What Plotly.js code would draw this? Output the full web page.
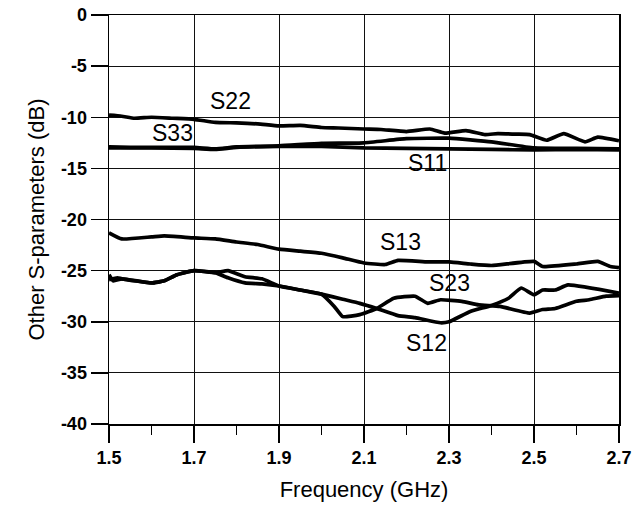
<!DOCTYPE html>
<html>
<head>
<meta charset="utf-8">
<script src="https://cdn.plot.ly/plotly-3.0.1.min.js"></script>
<style>html,body{margin:0;padding:0;background:#fff;}#chart{width:644px;height:506px;}</style>
</head>
<body>
<div id="chart"></div>
<script>
// S22
const s22_f = [1.5, 1.53, 1.56, 1.6, 1.65, 1.7, 1.75, 1.8, 1.85, 1.9, 1.95, 2.0, 2.04, 2.1, 2.14, 2.2, 2.255, 2.29, 2.34, 2.385, 2.415, 2.46, 2.49, 2.53, 2.57, 2.62, 2.65, 2.7];
const s22_v = [-9.8, -9.9, -10.1, -10.0, -10.1, -10.2, -10.5, -10.55, -10.65, -10.85, -10.8, -11.0, -11.05, -11.15, -11.2, -11.4, -11.15, -11.55, -11.3, -11.7, -11.6, -11.65, -11.7, -12.25, -11.6, -12.4, -11.95, -12.3];
// S33
const s33_f = [1.5, 1.55, 1.6, 1.7, 1.75, 1.8, 1.9, 2.0, 2.1, 2.2, 2.3, 2.4, 2.5, 2.6, 2.7];
const s33_v = [-12.9, -12.95, -12.95, -12.95, -13.1, -12.9, -12.8, -12.55, -12.5, -12.1, -12.05, -12.4, -13.0, -13.05, -13.1];
// S11
const s11_f = [1.5, 1.6, 1.7, 1.75, 1.8, 1.9, 2.0, 2.1, 2.2, 2.3, 2.4, 2.5, 2.6, 2.7];
const s11_v = [-13.0, -13.0, -13.05, -13.15, -12.95, -12.85, -12.85, -13.0, -13.05, -13.1, -13.15, -13.2, -13.15, -13.2];
// S13
const s13_f = [1.5, 1.53, 1.6, 1.63, 1.7, 1.75, 1.8, 1.85, 1.9, 1.95, 2.0, 2.05, 2.1, 2.15, 2.18, 2.25, 2.3, 2.35, 2.4, 2.5, 2.52, 2.6, 2.65, 2.68, 2.7];
const s13_v = [-21.3, -21.9, -21.7, -21.6, -21.8, -21.9, -22.2, -22.45, -22.9, -23.1, -23.3, -23.75, -24.25, -24.4, -24.0, -24.15, -24.15, -24.35, -24.5, -24.1, -24.6, -24.35, -24.1, -24.6, -24.7];
// S12
const s12_f = [1.5, 1.51, 1.53, 1.6, 1.63, 1.66, 1.7, 1.75, 1.78, 1.82, 1.86, 1.9, 1.95, 2.0, 2.05, 2.09, 2.13, 2.18, 2.22, 2.28, 2.3, 2.35, 2.4, 2.44, 2.47, 2.5, 2.52, 2.55, 2.58, 2.7];
const s12_v = [-25.4, -26.0, -25.8, -26.2, -26.0, -25.4, -25.0, -25.2, -25.0, -25.6, -25.8, -26.5, -26.9, -27.3, -27.8, -28.2, -28.7, -29.4, -29.6, -30.1, -30.0, -29.0, -28.4, -27.7, -26.7, -27.35, -26.9, -26.9, -26.4, -27.2];
// S23
const s23_f = [1.5, 1.52, 1.53, 1.6, 1.63, 1.66, 1.7, 1.75, 1.78, 1.82, 1.86, 1.9, 1.95, 2.0, 2.03, 2.05, 2.09, 2.13, 2.17, 2.22, 2.25, 2.28, 2.33, 2.37, 2.42, 2.49, 2.52, 2.55, 2.6, 2.63, 2.67, 2.7];
const s23_v = [-25.9, -25.7, -25.8, -26.2, -26.0, -25.4, -25.0, -25.2, -25.7, -26.2, -26.3, -26.5, -26.9, -27.3, -28.5, -29.5, -29.3, -28.7, -27.7, -27.5, -28.2, -27.85, -28.0, -28.35, -28.5, -29.15, -28.8, -28.7, -28.0, -27.85, -27.5, -27.45];

const labels = ["S22", "S33", "S11", "S13", "S23", "S12"];
const labelX = [1.787, 1.65, 2.25, 2.185, 2.302, 2.248];
const labelY = [-8.4, -11.55, -14.5, -22.2, -26.2, -32.1];

const xTicks = [1.5, 1.7, 1.9, 2.1, 2.3, 2.5, 2.7];
const xMinorTicks = [1.6, 1.8, 2.0, 2.2, 2.4, 2.6];
const yTicks = [0, -5, -10, -15, -20, -25, -30, -35, -40];

const series = [[s22_f, s22_v], [s33_f, s33_v], [s11_f, s11_v], [s13_f, s13_v], [s12_f, s12_v], [s23_f, s23_v]];
const traces = series.map(s => ({
  x: s[0], y: s[1], type: 'scatter', mode: 'lines',
  line: {color: '#000', width: 3.7, shape: 'spline', smoothing: 0.4},
  showlegend: false, hoverinfo: 'skip'
}));
// minor ticks via separate invisible axis
traces.push({x: [1.5, 2.7], y: [-40, -40], xaxis: 'x2', yaxis: 'y', mode: 'lines', line: {width: 0}, showlegend: false, hoverinfo: 'skip'});

const fontFam = 'Liberation Sans, Arial, sans-serif';
const layout = {
  width: 644, height: 506,
  margin: {l: 109, r: 25, t: 15, b: 82},
  paper_bgcolor: '#fff', plot_bgcolor: '#fff',
  showlegend: false,
  xaxis: {
    range: [1.5, 2.7], tickvals: xTicks, ticktext: xTicks.map(v => v.toFixed(1)),
    showgrid: true, gridcolor: '#111', gridwidth: 1, zeroline: false,
    showline: true, linecolor: '#000', linewidth: 1.5, mirror: true,
    ticks: 'outside', ticklen: 17, tickwidth: 1.5, tickcolor: '#000',
    tickfont: {family: fontFam, size: 18, color: '#000', weight: 'bold'},
    title: {text: 'Frequency (GHz)', font: {family: fontFam, size: 22, color: '#000'}, standoff: 14}
  },
  xaxis2: {
    overlaying: 'x', range: [1.5, 2.7], tickvals: xMinorTicks,
    showticklabels: false, showgrid: false, zeroline: false, showline: false,
    ticks: 'outside', ticklen: 10, tickwidth: 1.5, tickcolor: '#000', side: 'bottom', anchor: 'y'
  },
  yaxis: {
    range: [-40, 0], tickvals: yTicks, ticktext: yTicks.map(v => String(v)),
    showgrid: true, gridcolor: '#111', gridwidth: 1, zeroline: false,
    showline: true, linecolor: '#000', linewidth: 1.5, mirror: true,
    ticks: 'outside', ticklen: 17, tickwidth: 1.5, tickcolor: '#000',
    tickfont: {family: fontFam, size: 18, color: '#000', weight: 'bold'},
    title: {text: 'Other S-parameters (dB)', font: {family: fontFam, size: 22, color: '#000'}, standoff: 10}
  },
  annotations: labels.map((t, i) => ({
    x: labelX[i], y: labelY[i], xref: 'x', yref: 'y', text: t, showarrow: false,
    font: {family: fontFam, size: 23, color: '#000'}
  }))
};
Plotly.newPlot('chart', traces, layout, {staticPlot: true, displayModeBar: false});
</script>
</body>
</html>
